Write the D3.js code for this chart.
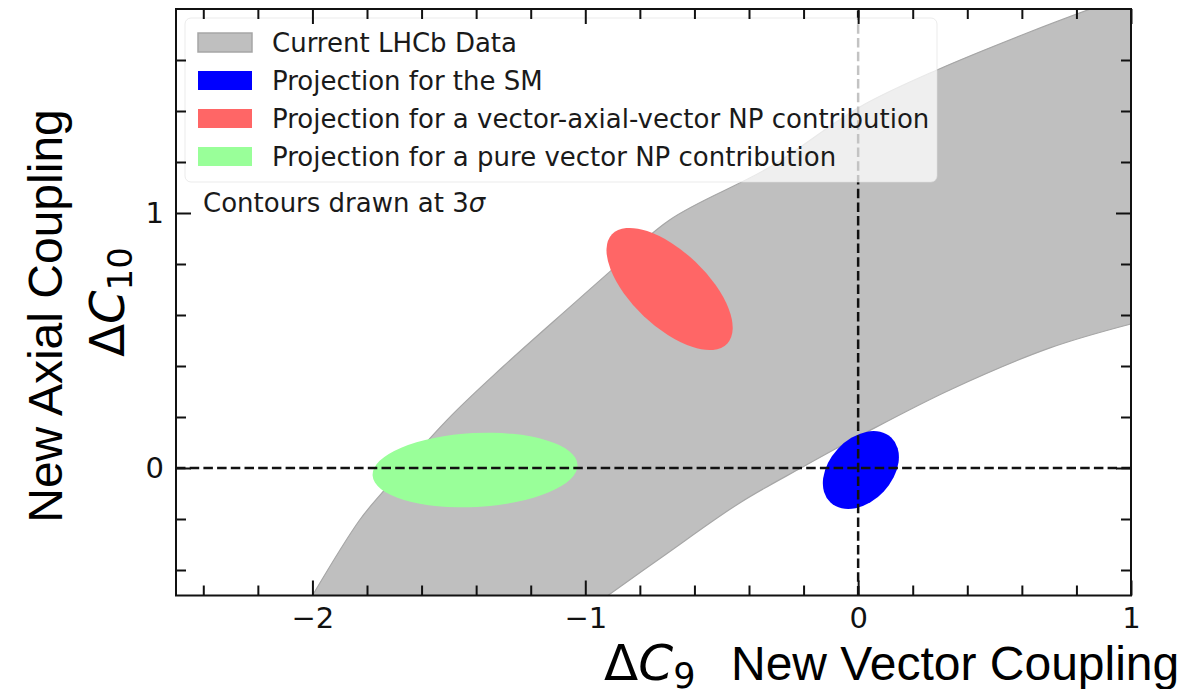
<!DOCTYPE html>
<html>
<head>
<meta charset="utf-8">
<script src="https://cdn.jsdelivr.net/npm/d3@7"></script>
<style>
	html, body { margin: 0; padding: 0; background: #fff; }
	svg { display: block; }
	.tick text { font-family: 'DejaVu Sans', sans-serif; }
</style>
</head>
<body>
<div id="chart"></div>
<script>
'use strict';

// axis ranges and ticks
const c9Domain = [-2.5, 1];
const c10Domain = [-0.5, 1.8];
const c9MajorTicks = [-2, -1, 0, 1];
const c9MinorTicks = [-2.4, -2.2, -1.8, -1.6, -1.4, -1.2, -0.8, -0.6, -0.4, -0.2, 0.2, 0.4, 0.6, 0.8];
const c10MajorTicks = [0, 1];
const c10MinorTicks = [-0.4, -0.2, 0.2, 0.4, 0.6, 0.8, 1.2, 1.4, 1.6];

// current LHCb data band, [dC9, dC10]
const bandUpperEdge = [
	[-2.000, -0.500], [-1.827, -0.204], [-1.742, -0.094], [-1.507, 0.188],
	[-1.303, 0.396], [-1.057, 0.631], [-0.911, 0.769], [-0.691, 0.973],
	[-0.324, 1.180], [0.006, 1.416], [0.289, 1.561], [0.619, 1.706],
	[0.861, 1.804], [1.060, 1.880]
];
const bandLowerEdge = [
	[-0.917, -0.500], [-0.708, -0.341], [-0.434, -0.137], [-0.203, 0.004],
	[0.032, 0.141], [0.336, 0.306], [0.703, 0.471], [1.000, 0.565],
	[1.060, 0.580]
];

// 3 sigma projections: centre, half axes, tilt (deg)
const contourNames = ['Projection for a pure vector NP contribution', 'Projection for a vector-axial-vector NP contribution', 'Projection for the SM'];
const contourC9 = [-1.404, -0.691, 0.010];
const contourC10 = [-0.008, 0.702, -0.008];
const contourHalfC9 = [0.376, 0.291, 0.163];
const contourHalfC10 = [0.145, 0.147, 0.123];
const contourTilt = [-3, 43.5, -47];

const legendLabels = [
	'Current LHCb Data',
	'Projection for the SM',
	'Projection for a vector-axial-vector NP contribution',
	'Projection for a pure vector NP contribution'
];

const contourColors = ['#99ff99', '#ff6666', '#0000ff'];
const legendColors = ['#bfbfbf', '#0000ff', '#ff6666', '#99ff99'];

const margin = {top: 9, right: 55, bottom: 93.5, left: 176};
const width = 1186 - margin.left - margin.right;
const height = 689 - margin.top - margin.bottom;

const svg = d3.select('#chart').append('svg')
	.attr('width', 1186)
	.attr('height', 689);

const x = d3.scaleLinear().domain(c9Domain).range([0, width]);
const y = d3.scaleLinear().domain(c10Domain).range([height, 0]);

const g = svg.append('g')
	.attr('transform', 'translate(' + margin.left + ',' + margin.top + ')');

g.append('clipPath').attr('id', 'plotClip')
	.append('rect')
	.attr('width', width)
	.attr('height', height);

const plot = g.append('g').attr('clip-path', 'url(#plotClip)');

// band
const edgeLine = d3.line().curve(d3.curveCatmullRom.alpha(0.5));
const upperPx = bandUpperEdge.map(d => [x(d[0]), y(d[1])]);
const lowerPx = bandLowerEdge.slice().reverse().map(d => [x(d[0]), y(d[1])]);
const bandPath = edgeLine(upperPx) + 'L' + edgeLine(lowerPx).slice(1) + 'Z';

plot.append('path')
	.attr('d', bandPath)
	.attr('fill', '#bfbfbf')
	.attr('stroke', '#a6a6a6')
	.attr('stroke-width', 1.2);

// contours
contourNames.forEach((name, i) => {
	const cx = x(contourC9[i]);
	const cy = y(contourC10[i]);
	plot.append('ellipse')
		.attr('cx', 0)
		.attr('cy', 0)
		.attr('rx', x(contourC9[i] + contourHalfC9[i]) - cx)
		.attr('ry', cy - y(contourC10[i] + contourHalfC10[i]))
		.attr('transform', 'translate(' + cx + ',' + cy + ') rotate(' + contourTilt[i] + ')')
		.attr('fill', contourColors[i]);
});

// zero lines
plot.append('line')
	.attr('x1', x(c9Domain[0])).attr('x2', x(c9Domain[1]))
	.attr('y1', y(0)).attr('y2', y(0))
	.attr('stroke', '#111').attr('stroke-width', 2.5)
	.attr('stroke-dasharray', '9.5,4.2');
plot.append('line')
	.attr('x1', x(0)).attr('x2', x(0))
	.attr('y1', y(c10Domain[0])).attr('y2', y(c10Domain[1]))
	.attr('stroke', '#111').attr('stroke-width', 2.5)
	.attr('stroke-dasharray', '9.5,4.2');

// legend
const legend = g.append('g').attr('transform', 'translate(9,9)');
legend.append('rect')
	.attr('width', 752)
	.attr('height', 164)
	.attr('rx', 6)
	.attr('fill', '#fff')
	.attr('fill-opacity', 0.75)
	.attr('stroke', '#ddd')
	.attr('stroke-opacity', 0.6);

legendLabels.forEach((label, i) => {
	legend.append('rect')
		.attr('x', 13)
		.attr('y', 15 + i * 38)
		.attr('width', 54)
		.attr('height', 19)
		.attr('fill', legendColors[i])
		.attr('stroke', i === 0 ? '#a6a6a6' : 'none')
		.attr('stroke-width', 1.5);
	legend.append('text')
		.attr('x', 87)
		.attr('y', 34 + i * 38)
		.attr('font-family', 'DejaVu Sans')
		.attr('font-size', 26)
		.attr('fill', '#1a1a1a')
		.text(label);
});

const note = legend.append('text')
	.attr('x', 18)
	.attr('y', 194)
	.attr('font-family', 'DejaVu Sans')
	.attr('font-size', 26)
	.attr('fill', '#1a1a1a');
note.append('tspan').text('Contours drawn at 3');
note.append('tspan').attr('font-style', 'italic').text('σ');

// axes, ticks pointing inwards on all four sides
function styleAxis(sel) {
	sel.select('.domain').remove();
	sel.selectAll('.tick line').attr('stroke', '#111').attr('stroke-width', 2);
	sel.selectAll('.tick text').attr('font-size', 29).attr('fill', '#111');
}

g.append('g')
	.attr('transform', 'translate(0,' + height + ')')
	.call(d3.axisBottom(x).tickValues(c9MajorTicks).tickSize(-15).tickPadding(12).tickFormat(d3.format('d')))
	.call(styleAxis);
g.append('g')
	.attr('transform', 'translate(0,' + height + ')')
	.call(d3.axisBottom(x).tickValues(c9MinorTicks).tickSize(-10).tickFormat(''))
	.call(styleAxis);
g.append('g')
	.call(d3.axisTop(x).tickValues(c9MajorTicks).tickSize(-15).tickFormat(''))
	.call(styleAxis);
g.append('g')
	.call(d3.axisTop(x).tickValues(c9MinorTicks).tickSize(-10).tickFormat(''))
	.call(styleAxis);

g.append('g')
	.call(d3.axisLeft(y).tickValues(c10MajorTicks).tickSize(-15).tickPadding(12).tickFormat(d3.format('d')))
	.call(styleAxis);
g.append('g')
	.call(d3.axisLeft(y).tickValues(c10MinorTicks).tickSize(-10).tickFormat(''))
	.call(styleAxis);
g.append('g')
	.attr('transform', 'translate(' + width + ',0)')
	.call(d3.axisRight(y).tickValues(c10MajorTicks).tickSize(-15).tickFormat(''))
	.call(styleAxis);
g.append('g')
	.attr('transform', 'translate(' + width + ',0)')
	.call(d3.axisRight(y).tickValues(c10MinorTicks).tickSize(-10).tickFormat(''))
	.call(styleAxis);

g.append('rect')
	.attr('width', width)
	.attr('height', height)
	.attr('fill', 'none')
	.attr('stroke', '#111')
	.attr('stroke-width', 2);

// axis titles
const xMath = svg.append('text')
	.attr('x', 604)
	.attr('y', 680)
	.attr('font-family', 'DejaVu Sans')
	.attr('font-size', 50)
	.attr('fill', '#000');
xMath.append('tspan').text('Δ');
xMath.append('tspan').attr('font-style', 'italic').text('C');
xMath.append('tspan').attr('font-size', 35).attr('dy', 8).text('9');

svg.append('text')
	.attr('x', 731)
	.attr('y', 680)
	.attr('font-family', 'Liberation Sans, Arial, sans-serif')
	.attr('font-size', 48)
	.attr('fill', '#000')
	.text('New Vector Coupling');

svg.append('text')
	.attr('transform', 'translate(62,316) rotate(-90)')
	.attr('text-anchor', 'middle')
	.attr('font-family', 'Liberation Sans, Arial, sans-serif')
	.attr('font-size', 48)
	.attr('fill', '#000')
	.text('New Axial Coupling');

const yMath = svg.append('text')
	.attr('transform', 'translate(124,302) rotate(-90)')
	.attr('text-anchor', 'middle')
	.attr('font-family', 'DejaVu Sans')
	.attr('font-size', 48)
	.attr('fill', '#000');
yMath.append('tspan').text('Δ');
yMath.append('tspan').attr('font-style', 'italic').text('C');
yMath.append('tspan').attr('font-size', 34).attr('dy', 8).text('10');
</script>
</body>
</html>
